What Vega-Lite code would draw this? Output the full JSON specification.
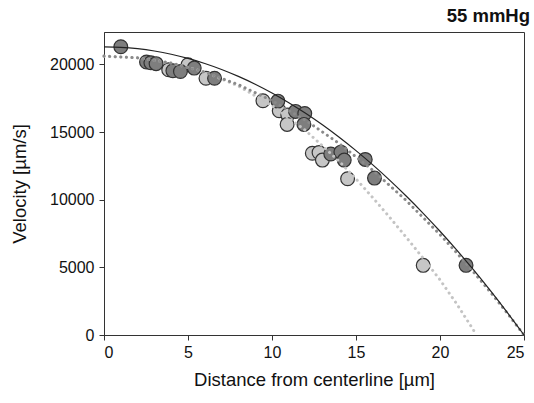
{
  "$schema": "https://vega.github.io/schema/vega-lite/v6.json",
  "autosize": "none",
  "width": 420,
  "height": 303,
  "padding": {"left": 104, "top": 32, "right": 10, "bottom": 68},
  "background": "white",
  "config": {
    "view": {"stroke": "#333", "strokeWidth": 1},
    "font": "Liberation Sans",
    "axis": {"grid": false, "domainColor": "#333", "tickColor": "#333", "labelColor": "#111", "titleColor": "#111", "labelFontSize": 16, "titleFontSize": 18.5, "titleFontWeight": "normal", "tickSize": 5, "labelFont": "Liberation Sans", "titleFont": "Liberation Sans"}
  },
  "title": {"text": "55 mmHg", "anchor": "end", "fontWeight": "bold", "fontSize": 18.5, "font": "Liberation Sans", "color": "#111", "offset": 7},
  "datasets": {
    "pts": [
      {"r": 3.85, "v": 19610, "g": "light"},
      {"r": 5.0, "v": 19980, "g": "light"},
      {"r": 6.07, "v": 18980, "g": "light"},
      {"r": 9.46, "v": 17320, "g": "light"},
      {"r": 10.43, "v": 16580, "g": "light"},
      {"r": 10.94, "v": 16260, "g": "light"},
      {"r": 10.9, "v": 15570, "g": "light"},
      {"r": 12.4, "v": 13440, "g": "light"},
      {"r": 12.8, "v": 13490, "g": "light"},
      {"r": 13.0, "v": 12930, "g": "light"},
      {"r": 14.5, "v": 11550, "g": "light"},
      {"r": 19.0, "v": 5150, "g": "light"},
      {"r": 1.0, "v": 21310, "g": "dark"},
      {"r": 2.53, "v": 20180, "g": "dark"},
      {"r": 2.79, "v": 20130, "g": "dark"},
      {"r": 3.1, "v": 20060, "g": "dark"},
      {"r": 4.1, "v": 19540, "g": "dark"},
      {"r": 4.55, "v": 19480, "g": "dark"},
      {"r": 5.37, "v": 19730, "g": "dark"},
      {"r": 6.58, "v": 18980, "g": "dark"},
      {"r": 10.35, "v": 17290, "g": "dark"},
      {"r": 11.4, "v": 16530, "g": "dark"},
      {"r": 11.95, "v": 16380, "g": "dark"},
      {"r": 11.9, "v": 15570, "g": "dark"},
      {"r": 13.5, "v": 13380, "g": "dark"},
      {"r": 14.1, "v": 13520, "g": "dark"},
      {"r": 14.3, "v": 12930, "g": "dark"},
      {"r": 15.55, "v": 12980, "g": "dark"},
      {"r": 16.1, "v": 11600, "g": "dark"},
      {"r": 21.55, "v": 5150, "g": "dark"}
    ],
    "solid": [
      {"r": 0, "v": 21300}, {"r": 1, "v": 21266}, {"r": 2, "v": 21164}, {"r": 3, "v": 20993},
      {"r": 4, "v": 20755}, {"r": 5, "v": 20448}, {"r": 6, "v": 20073}, {"r": 7, "v": 19630},
      {"r": 8, "v": 19118}, {"r": 9, "v": 18539}, {"r": 10, "v": 17892}, {"r": 11, "v": 17176},
      {"r": 12, "v": 16393}, {"r": 13, "v": 15541}, {"r": 14, "v": 14620}, {"r": 15, "v": 13632},
      {"r": 16, "v": 12575}, {"r": 17, "v": 11450}, {"r": 18, "v": 10256}, {"r": 19, "v": 8996},
      {"r": 20, "v": 7668}, {"r": 21, "v": 6271}, {"r": 22, "v": 4806}, {"r": 23, "v": 3272},
      {"r": 24, "v": 1670}, {"r": 25, "v": 0}
    ],
    "darkfit": [
      {"r": 0, "v": 20620}, {"r": 2, "v": 20488}, {"r": 4, "v": 20092}, {"r": 6, "v": 19432},
      {"r": 8, "v": 18509}, {"r": 10, "v": 17321}, {"r": 12, "v": 15869}, {"r": 14, "v": 14154},
      {"r": 16, "v": 12175}, {"r": 18, "v": 9931}, {"r": 20, "v": 7424}, {"r": 21, "v": 6071},
      {"r": 22, "v": 4653}, {"r": 23, "v": 3169}, {"r": 24, "v": 1619}, {"r": 25, "v": 0}
    ],
    "lightfit": [
      {"r": 0, "v": 20600}, {"r": 2, "v": 20490}, {"r": 4, "v": 20120}, {"r": 6, "v": 19440},
      {"r": 8, "v": 18410}, {"r": 10, "v": 16960}, {"r": 12, "v": 15120}, {"r": 14, "v": 12840},
      {"r": 15, "v": 11540}, {"r": 16, "v": 10150}, {"r": 17, "v": 8710}, {"r": 18, "v": 7210},
      {"r": 19, "v": 5670}, {"r": 20, "v": 4080}, {"r": 21, "v": 2290}, {"r": 22, "v": 350},
      {"r": 22.1, "v": 0}
    ]
  },
  "encoding": {
    "x": {"field": "r", "type": "quantitative", "scale": {"domain": [0, 25], "nice": false},
      "axis": {"values": [0, 5, 10, 15, 20, 25], "title": "Distance from centerline [µm]", "labelPadding": 4, "titlePadding": 10}},
    "y": {"field": "v", "type": "quantitative", "scale": {"domain": [0, 22400], "nice": false},
      "axis": {"values": [0, 5000, 10000, 15000, 20000], "format": "d", "title": "Velocity [µm/s]", "labelPadding": 5, "titlePadding": 20}}
  },
  "layer": [
    {
      "data": {"name": "pts"},
      "mark": {"type": "point", "filled": true, "shape": "circle", "size": 190, "stroke": "#333", "strokeWidth": 1.2, "opacity": 1, "fillOpacity": 1},
      "encoding": {
        "fill": {"field": "g", "type": "nominal", "scale": {"domain": ["light", "dark"], "range": ["#c6c6c6", "#7e7e7e"]}, "legend": null}
      }
    },
    {
      "data": {"name": "lightfit"},
      "mark": {"type": "line", "color": "#c4c4c4", "strokeWidth": 3, "strokeDash": [0.1, 5.5], "strokeCap": "round"},
      "encoding": {}
    },
    {
      "data": {"name": "darkfit"},
      "mark": {"type": "line", "color": "#8a8a8a", "strokeWidth": 3, "strokeDash": [0.1, 5.5], "strokeCap": "round"},
      "encoding": {}
    },
    {
      "data": {"name": "solid"},
      "mark": {"type": "line", "color": "#222", "strokeWidth": 1.2, "interpolate": "monotone"},
      "encoding": {}
    }
  ]
}
